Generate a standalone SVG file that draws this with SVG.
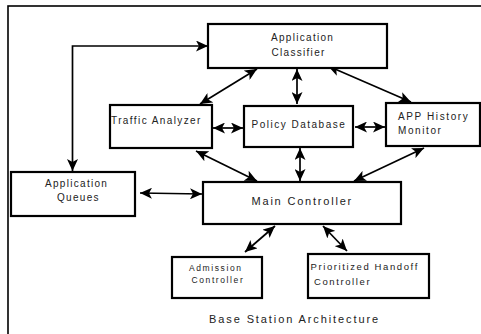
<svg xmlns="http://www.w3.org/2000/svg" width="481" height="334" viewBox="0 0 481 334">
<style>
.box{fill:#fff;stroke:#000;stroke-width:2.2}
.t{font-family:"Liberation Sans",Arial,sans-serif;font-size:10px;fill:#222;letter-spacing:1.4px}
.c{fill:none;stroke:#000;stroke-width:1.7}
</style>
<defs>
<marker id="ah" markerUnits="userSpaceOnUse" markerWidth="13" markerHeight="11" refX="12" refY="5.5" orient="auto-start-reverse" viewBox="0 0 13 11">
<path d="M0,0 L12,5.5 L0,11 L3,5.5 z" fill="#000"/>
</marker>
</defs>
<rect x="8" y="6" width="490" height="340" fill="#fff" stroke="#000" stroke-width="1.6"/>
<g id="connectors">
<polyline class="c" points="72.5,171 72.5,46 208,46" marker-start="url(#ah)" marker-end="url(#ah)"/>
<line class="c" x1="257" y1="69" x2="200" y2="104" marker-start="url(#ah)" marker-end="url(#ah)"/>
<line class="c" x1="297" y1="69" x2="297" y2="104" marker-start="url(#ah)" marker-end="url(#ah)"/>
<line class="c" x1="328" y1="66" x2="411" y2="102" marker-start="url(#ah)" marker-end="url(#ah)"/>
<line class="c" x1="213" y1="128" x2="243" y2="128" marker-start="url(#ah)" marker-end="url(#ah)"/>
<line class="c" x1="355" y1="127" x2="385" y2="127" marker-start="url(#ah)" marker-end="url(#ah)"/>
<line class="c" x1="196" y1="151" x2="257" y2="181" marker-start="url(#ah)" marker-end="url(#ah)"/>
<line class="c" x1="300" y1="148" x2="300" y2="181" marker-start="url(#ah)" marker-end="url(#ah)"/>
<line class="c" x1="424" y1="148" x2="354" y2="181" marker-start="url(#ah)" marker-end="url(#ah)"/>
<line class="c" x1="140" y1="193" x2="202" y2="194" marker-start="url(#ah)" marker-end="url(#ah)"/>
<line class="c" x1="275" y1="226" x2="245" y2="252" marker-start="url(#ah)" marker-end="url(#ah)"/>
<line class="c" x1="323" y1="226" x2="347" y2="251" marker-start="url(#ah)" marker-end="url(#ah)"/>
</g>
<g id="classifier">
<rect class="box" x="208" y="24" width="179" height="44"/>
<text class="t" x="271" y="41" style="letter-spacing:1.3px">Application</text>
<text class="t" x="271.5" y="56" style="letter-spacing:1.3px">Classifier</text>
</g>
<g id="traffic">
<rect class="box" x="110" y="105" width="102" height="43"/>
<text class="t" x="111" y="124">Traffic Analyzer</text>
</g>
<g id="policy">
<rect class="box" x="244" y="106" width="109" height="41"/>
<text class="t" x="251.5" y="127.5" style="letter-spacing:1.5px">Policy Database</text>
</g>
<g id="history">
<rect class="box" x="386" y="103" width="94" height="43"/>
<text class="t" x="398" y="119.5" style="letter-spacing:1.6px">APP History</text>
<text class="t" x="398" y="133.5" style="letter-spacing:1.6px">Monitor</text>
</g>
<g id="queues">
<rect class="box" x="11" y="172" width="124" height="44"/>
<text class="t" x="45" y="186.5" style="letter-spacing:1.3px">Application</text>
<text class="t" x="57" y="200.5" style="letter-spacing:1.3px">Queues</text>
</g>
<g id="main">
<rect class="box" x="203" y="182" width="198" height="42"/>
<text class="t" x="251.5" y="205" style="font-size:11px;letter-spacing:1.8px">Main Controller</text>
</g>
<g id="admission">
<rect class="box" x="172" y="257" width="90" height="41"/>
<text class="t" x="189" y="271" style="font-size:8.5px;letter-spacing:1.6px">Admission</text>
<text class="t" x="191.5" y="283" style="font-size:8.5px;letter-spacing:1.6px">Controller</text>
</g>
<g id="handoff">
<rect class="box" x="308" y="254" width="121" height="44"/>
<text class="t" x="310.5" y="270" style="font-size:9.5px;letter-spacing:1.6px">Prioritized Handoff</text>
<text class="t" x="314" y="284.5" style="font-size:9.5px;letter-spacing:1.6px">Controller</text>
</g>
<text class="t" x="209" y="323" style="font-size:11px;letter-spacing:1.9px">Base Station Architecture</text>
</svg>
